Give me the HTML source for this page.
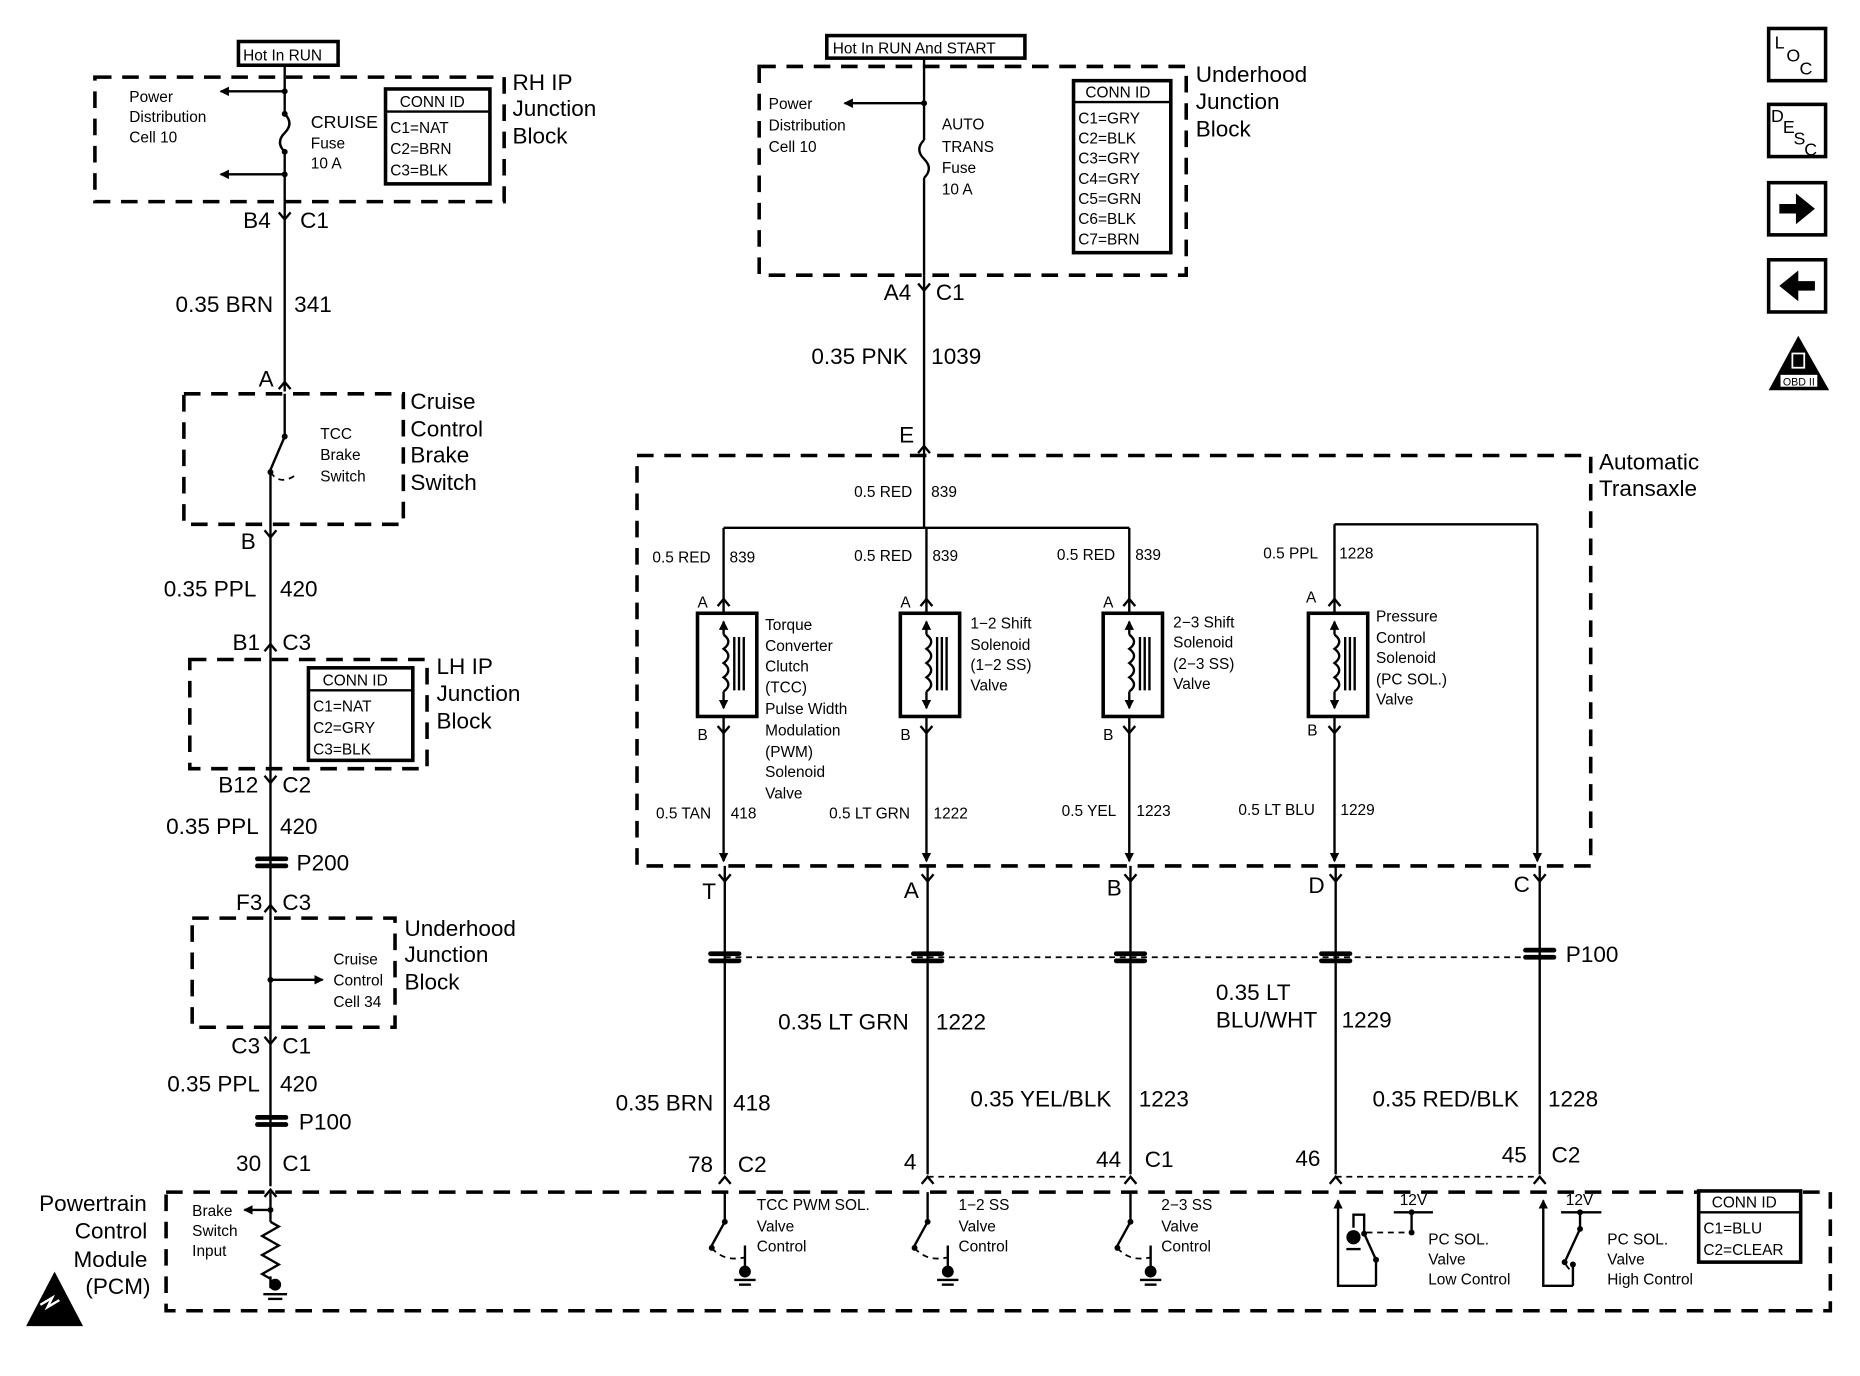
<!DOCTYPE html>
<html><head><meta charset="utf-8"><style>
html,body{margin:0;padding:0;background:#fff;}
svg{display:block;}
text{font-family:"Liberation Sans",Arial,sans-serif;fill:#000;}
.s{font-size:13px;}
.m{font-size:15px;}
.l{font-size:19px;}
.w{stroke:#000;stroke-width:2;fill:none;}
.d{stroke:#000;stroke-width:3;fill:none;stroke-dasharray:14 9;}
.dt{stroke:#000;stroke-width:1.5;fill:none;stroke-dasharray:5 4;}
.b{stroke:#000;stroke-width:3;fill:#fff;}
</style></head><body>
<svg width="1860" height="1376" viewBox="0 0 1568 1160" xmlns="http://www.w3.org/2000/svg">
<defs>
<marker id="ah" markerWidth="8" markerHeight="8" refX="7" refY="4" orient="auto" markerUnits="userSpaceOnUse"><path d="M0,0 L8,4 L0,8 z"/></marker>
<g id="fY"><path d="M-5,-6 L0,0 L5,-6" class="w"/></g>
<g id="mA"><path d="M-5,6 L0,0 L5,6" class="w"/></g>
<g id="inl"><line x1="-12" y1="-3" x2="12" y2="-3" stroke="#000" stroke-width="4" stroke-linecap="round"/><line x1="-12" y1="3" x2="12" y2="3" stroke="#000" stroke-width="4" stroke-linecap="round"/></g>
</defs>

<!-- ============ LEFT COLUMN ============ -->
<rect x="201" y="35" width="84" height="20" class="b" stroke-width="2.5"/>
<text x="205" y="51" class="s">Hot In RUN</text>
<path d="M80,65 H425 V170 H80 Z" class="d"/>
<text x="432" y="76" class="l">RH IP</text>
<text x="432" y="98" class="l">Junction</text>
<text x="432" y="121" class="l">Block</text>
<line x1="240" y1="55" x2="240" y2="96" class="w"/>
<path d="M240,96 q8,8 0,16 q-8,8 0,16" class="w"/>
<line x1="240" y1="128" x2="240" y2="170" class="w"/>
<line x1="240" y1="77" x2="186" y2="77" class="w" marker-end="url(#ah)"/>
<line x1="240" y1="147" x2="186" y2="147" class="w" marker-end="url(#ah)"/>
<circle cx="240" cy="77" r="2.5"/><circle cx="240" cy="147" r="2.5"/>
<circle cx="240" cy="96" r="2.5"/><circle cx="240" cy="128" r="2.5"/>
<text x="109" y="86" class="s">Power</text>
<text x="109" y="103" class="s">Distribution</text>
<text x="109" y="120" class="s">Cell 10</text>
<text x="262" y="108" class="m">CRUISE</text>
<text x="262" y="125" class="s">Fuse</text>
<text x="262" y="142" class="s">10 A</text>
<rect x="325" y="75" width="88" height="80" class="b" stroke-width="2.5"/>
<line x1="325" y1="94" x2="413" y2="94" class="w"/>
<text x="337" y="90" class="s">CONN ID</text>
<text x="329" y="112" class="s">C1=NAT</text>
<text x="329" y="130" class="s">C2=BRN</text>
<text x="329" y="148" class="s">C3=BLK</text>
<line x1="240" y1="170" x2="240" y2="330" class="w"/>
<use href="#fY" x="240" y="185"/>
<text x="205" y="192" class="l">B4</text><text x="253" y="192" class="l">C1</text>
<text x="148" y="263" class="l">0.35 BRN</text><text x="248" y="263" class="l">341</text>
<use href="#mA" x="240" y="322"/>
<text x="218" y="326" class="l">A</text>
<path d="M155,332 H340 V442 H155 Z" class="d"/>
<text x="346" y="345" class="l">Cruise</text>
<text x="346" y="368" class="l">Control</text>
<text x="346" y="390" class="l">Brake</text>
<text x="346" y="413" class="l">Switch</text>
<line x1="240" y1="332" x2="240" y2="368" class="w"/>
<line x1="240" y1="368" x2="228" y2="396" class="w"/>
<circle cx="240" cy="368" r="2.5"/><circle cx="228" cy="398" r="2.5"/>
<path d="M228,398 q8,12 22,2" class="dt"/>
<line x1="228" y1="398" x2="228" y2="470" class="w"/>
<text x="270" y="370" class="s">TCC</text>
<text x="270" y="388" class="s">Brake</text>
<text x="270" y="406" class="s">Switch</text>
<use href="#fY" x="228" y="453"/>
<text x="203" y="463" class="l">B</text>
<line x1="228" y1="470" x2="228" y2="1000" class="w"/>
<text x="138" y="503" class="l">0.35 PPL</text><text x="236" y="503" class="l">420</text>
<use href="#mA" x="228" y="543"/>
<text x="196" y="548" class="l">B1</text><text x="238" y="548" class="l">C3</text>
<path d="M160,556 H360 V648 H160 Z" class="d"/>
<text x="368" y="568" class="l">LH IP</text>
<text x="368" y="591" class="l">Junction</text>
<text x="368" y="614" class="l">Block</text>
<rect x="260" y="563" width="88" height="78" class="b" stroke-width="2.5"/>
<line x1="260" y1="582" x2="348" y2="582" class="w"/>
<text x="272" y="578" class="s">CONN ID</text>
<text x="264" y="600" class="s">C1=NAT</text>
<text x="264" y="618" class="s">C2=GRY</text>
<text x="264" y="636" class="s">C3=BLK</text>
<use href="#fY" x="228" y="660"/>
<text x="184" y="668" class="l">B12</text><text x="238" y="668" class="l">C2</text>
<text x="140" y="703" class="l">0.35 PPL</text><text x="236" y="703" class="l">420</text>
<use href="#inl" x="229" y="727"/>
<text x="250" y="734" class="l">P200</text>
<use href="#mA" x="228" y="763"/>
<text x="199" y="767" class="l">F3</text><text x="238" y="767" class="l">C3</text>
<path d="M162,774 H333 V866 H162 Z" class="d"/>
<text x="341" y="789" class="l">Underhood</text>
<text x="341" y="811" class="l">Junction</text>
<text x="341" y="834" class="l">Block</text>
<line x1="228" y1="826" x2="272" y2="826" class="w" marker-end="url(#ah)"/>
<circle cx="228" cy="826" r="2.5"/>
<text x="281" y="813" class="s">Cruise</text>
<text x="281" y="831" class="s">Control</text>
<text x="281" y="849" class="s">Cell 34</text>
<use href="#fY" x="228" y="880"/>
<text x="195" y="888" class="l">C3</text><text x="238" y="888" class="l">C1</text>
<text x="141" y="920" class="l">0.35 PPL</text><text x="236" y="920" class="l">420</text>
<use href="#inl" x="229" y="945"/>
<text x="252" y="952" class="l">P100</text>
<text x="199" y="987" class="l">30</text><text x="238" y="987" class="l">C1</text>
<use href="#mA" x="228" y="1003"/>

<!-- PCM -->
<path d="M140,1005 H1543 V1105 H140 Z" class="d"/>
<text x="33" y="1021" class="l">Powertrain</text>
<text x="63" y="1044" class="l">Control</text>
<text x="62" y="1068" class="l">Module</text>
<text x="72" y="1091" class="l">(PCM)</text>
<path d="M22,1118 L46,1072 L70,1118 Z"/>
<path d="M34,1100 l10,-6 l-4,8 l10,-6" stroke="#fff" stroke-width="2" fill="none"/>
<line x1="228" y1="1005" x2="228" y2="1030" class="w"/>
<path d="M228,1030 l7,4 l-14,8 l14,8 l-14,8 l14,8 l-14,8 l7,4" class="w"/>
<line x1="228" y1="1076" x2="228" y2="1086" class="w"/>
<circle cx="232" cy="1083" r="5"/>
<line x1="222" y1="1091" x2="242" y2="1091" class="w"/><line x1="226" y1="1095" x2="238" y2="1095" class="w"/>
<line x1="228" y1="1020" x2="206" y2="1020" class="w" marker-end="url(#ah)"/>
<circle cx="228" cy="1020" r="2.5"/>
<text x="162" y="1025" class="s">Brake</text>
<text x="162" y="1042" class="s">Switch</text>
<text x="162" y="1059" class="s">Input</text>

<!-- ============ MIDDLE TOP ============ -->
<rect x="697" y="30" width="167" height="19" class="b" stroke-width="2.5"/>
<text x="702" y="45" class="s">Hot In RUN And START</text>
<path d="M640,56 H1000 V232 H640 Z" class="d"/>
<text x="1008" y="69" class="l">Underhood</text>
<text x="1008" y="92" class="l">Junction</text>
<text x="1008" y="115" class="l">Block</text>
<line x1="779" y1="49" x2="779" y2="118" class="w"/>
<path d="M779,118 q-8,8 0,16 q8,8 0,16" class="w"/>
<line x1="779" y1="150" x2="779" y2="232" class="w"/>
<line x1="779" y1="87" x2="712" y2="87" class="w" marker-end="url(#ah)"/>
<circle cx="779" cy="87" r="2.5"/>
<text x="648" y="92" class="s">Power</text>
<text x="648" y="110" class="s">Distribution</text>
<text x="648" y="128" class="s">Cell 10</text>
<text x="794" y="109" class="s">AUTO</text>
<text x="794" y="128" class="s">TRANS</text>
<text x="794" y="146" class="s">Fuse</text>
<text x="794" y="164" class="s">10 A</text>
<rect x="905" y="68" width="82" height="145" class="b" stroke-width="2.5"/>
<line x1="905" y1="86" x2="987" y2="86" class="w"/>
<text x="915" y="82" class="s">CONN ID</text>
<text x="909" y="104" class="s">C1=GRY</text>
<text x="909" y="121" class="s">C2=BLK</text>
<text x="909" y="138" class="s">C3=GRY</text>
<text x="909" y="155" class="s">C4=GRY</text>
<text x="909" y="172" class="s">C5=GRN</text>
<text x="909" y="189" class="s">C6=BLK</text>
<text x="909" y="206" class="s">C7=BRN</text>
<line x1="779" y1="232" x2="779" y2="445" class="w"/>
<use href="#fY" x="779" y="245"/>
<text x="745" y="253" class="l">A4</text><text x="789" y="253" class="l">C1</text>
<text x="684" y="307" class="l">0.35 PNK</text><text x="785" y="307" class="l">1039</text>
<use href="#mA" x="779" y="376"/>
<text x="758" y="373" class="l">E</text>

<!-- Transaxle -->
<path d="M537,384 H1341 V730 H537 Z" class="d"/>
<text x="1348" y="396" class="l">Automatic</text>
<text x="1348" y="418" class="l">Transaxle</text>
<text x="720" y="419" class="s">0.5 RED</text><text x="785" y="419" class="s">839</text>
<line x1="610" y1="445" x2="952" y2="445" class="w"/>
<line x1="1125" y1="442" x2="1296" y2="442" class="w"/>
<line x1="1296" y1="442" x2="1296" y2="726" class="w" marker-end="url(#ah)"/>

<g>
<line x1="610" y1="445" x2="610" y2="517" class="w"/>
<line x1="781" y1="445" x2="781" y2="517" class="w"/>
<line x1="952" y1="445" x2="952" y2="517" class="w"/>
<line x1="1125" y1="442" x2="1125" y2="517" class="w"/>
</g>
<text x="550" y="474" class="s">0.5 RED</text><text x="615" y="474" class="s">839</text>
<text x="720" y="473" class="s">0.5 RED</text><text x="786" y="473" class="s">839</text>
<text x="891" y="472" class="s">0.5 RED</text><text x="957" y="472" class="s">839</text>
<text x="1065" y="471" class="s">0.5 PPL</text><text x="1129" y="471" class="s">1228</text>

<g id="sol">
<use href="#mA" x="610" y="505"/>
<rect x="588" y="517" width="50" height="87" class="b"/>
<line x1="610" y1="535" x2="610" y2="524" class="w" marker-end="url(#ah)"/>
<path d="M610,535 q8,6 0,12 q8,6 0,12 q8,6 0,12 q8,6 0,12" class="w"/>
<line x1="610" y1="583" x2="610" y2="597" class="w" marker-end="url(#ah)"/>
<line x1="619" y1="537" x2="619" y2="582" class="w" stroke-width="1.2"/>
<line x1="623" y1="537" x2="623" y2="582" class="w"/>
<line x1="627" y1="537" x2="627" y2="582" class="w"/>
<use href="#fY" x="610" y="618"/>
<line x1="610" y1="604" x2="610" y2="617" class="w"/>
</g>
<use href="#sol" x="171"/>
<use href="#sol" x="342"/>
<use href="#sol" x="515"/>
<text x="588" y="512" class="s">A</text><text x="588" y="624" class="s">B</text>
<text x="759" y="512" class="s">A</text><text x="759" y="624" class="s">B</text>
<text x="930" y="512" class="s">A</text><text x="930" y="624" class="s">B</text>
<text x="1101" y="508" class="s">A</text><text x="1102" y="620" class="s">B</text>

<text x="645" y="531" class="s">Torque</text>
<text x="645" y="549" class="s">Converter</text>
<text x="645" y="566" class="s">Clutch</text>
<text x="645" y="584" class="s">(TCC)</text>
<text x="645" y="602" class="s">Pulse Width</text>
<text x="645" y="620" class="s">Modulation</text>
<text x="645" y="638" class="s">(PWM)</text>
<text x="645" y="655" class="s">Solenoid</text>
<text x="645" y="673" class="s">Valve</text>
<text x="818" y="530" class="s">1−2 Shift</text>
<text x="818" y="548" class="s">Solenoid</text>
<text x="818" y="565" class="s">(1−2 SS)</text>
<text x="818" y="582" class="s">Valve</text>
<text x="989" y="529" class="s">2−3 Shift</text>
<text x="989" y="546" class="s">Solenoid</text>
<text x="989" y="564" class="s">(2−3 SS)</text>
<text x="989" y="581" class="s">Valve</text>
<text x="1160" y="524" class="s">Pressure</text>
<text x="1160" y="542" class="s">Control</text>
<text x="1160" y="559" class="s">Solenoid</text>
<text x="1160" y="577" class="s">(PC SOL.)</text>
<text x="1160" y="594" class="s">Valve</text>

<line x1="610" y1="617" x2="610" y2="726" class="w" marker-end="url(#ah)"/>
<line x1="781" y1="617" x2="781" y2="726" class="w" marker-end="url(#ah)"/>
<line x1="952" y1="617" x2="952" y2="726" class="w" marker-end="url(#ah)"/>
<line x1="1125" y1="617" x2="1125" y2="726" class="w" marker-end="url(#ah)"/>
<text x="553" y="690" class="s">0.5 TAN</text><text x="616" y="690" class="s">418</text>
<text x="699" y="690" class="s">0.5 LT GRN</text><text x="787" y="690" class="s">1222</text>
<text x="895" y="688" class="s">0.5 YEL</text><text x="958" y="688" class="s">1223</text>
<text x="1044" y="687" class="s">0.5 LT BLU</text><text x="1130" y="687" class="s">1229</text>

<line x1="611" y1="730" x2="611" y2="990" class="w"/>
<line x1="782" y1="730" x2="782" y2="990" class="w"/>
<line x1="953" y1="730" x2="953" y2="990" class="w"/>
<line x1="1126" y1="730" x2="1126" y2="990" class="w"/>
<line x1="1298" y1="730" x2="1298" y2="990" class="w"/>
<use href="#fY" x="611" y="743"/><use href="#fY" x="782" y="743"/><use href="#fY" x="953" y="743"/><use href="#fY" x="1126" y="743"/><use href="#fY" x="1298" y="743"/>
<text x="592" y="758" class="l">T</text><text x="762" y="757" class="l">A</text><text x="933" y="755" class="l">B</text><text x="1103" y="753" class="l">D</text><text x="1276" y="752" class="l">C</text>
<line x1="611" y1="807" x2="1298" y2="807" class="dt"/>
<use href="#inl" x="611" y="807"/><use href="#inl" x="782" y="807"/><use href="#inl" x="953" y="807"/><use href="#inl" x="1126" y="807"/><use href="#inl" x="1298" y="804"/>
<text x="1320" y="811" class="l">P100</text>
<text x="656" y="868" class="l">0.35 LT GRN</text><text x="789" y="868" class="l">1222</text>
<text x="1025" y="843" class="l">0.35 LT</text>
<text x="1025" y="866" class="l">BLU/WHT</text><text x="1131" y="866" class="l">1229</text>
<text x="519" y="936" class="l">0.35 BRN</text><text x="618" y="936" class="l">418</text>
<text x="818" y="933" class="l">0.35 YEL/BLK</text><text x="960" y="933" class="l">1223</text>
<text x="1157" y="933" class="l">0.35 RED/BLK</text><text x="1305" y="933" class="l">1228</text>
<text x="580" y="988" class="l">78</text><text x="622" y="988" class="l">C2</text>
<text x="762" y="986" class="l">4</text>
<text x="924" y="984" class="l">44</text><text x="965" y="984" class="l">C1</text>
<text x="1092" y="983" class="l">46</text>
<text x="1266" y="980" class="l">45</text><text x="1308" y="980" class="l">C2</text>
<use href="#mA" x="611" y="992"/><use href="#mA" x="782" y="992"/><use href="#mA" x="953" y="992"/><use href="#mA" x="1126" y="992"/><use href="#mA" x="1298" y="992"/>
<line x1="782" y1="992" x2="953" y2="992" class="dt"/>
<line x1="1126" y1="992" x2="1298" y2="992" class="dt"/>

<g id="drv">
<line x1="611" y1="1005" x2="611" y2="1030" class="w"/>
<line x1="611" y1="1030" x2="600" y2="1050" class="w"/>
<circle cx="611" cy="1030" r="2.5"/><circle cx="600" cy="1052" r="2.5"/>
<path d="M600,1052 q10,12 28,8" class="dt"/>
<line x1="628" y1="1050" x2="628" y2="1070" class="w"/>
<circle cx="628" cy="1072" r="5"/>
<line x1="619" y1="1079" x2="637" y2="1079" class="w"/><line x1="623" y1="1083" x2="633" y2="1083" class="w"/>
</g>
<use href="#drv" x="171"/>
<use href="#drv" x="342"/>
<text x="638" y="1020" class="s">TCC PWM SOL.</text><text x="638" y="1038" class="s">Valve</text><text x="638" y="1055" class="s">Control</text>
<text x="808" y="1020" class="s">1−2 SS</text><text x="808" y="1038" class="s">Valve</text><text x="808" y="1055" class="s">Control</text>
<text x="979" y="1020" class="s">2−3 SS</text><text x="979" y="1038" class="s">Valve</text><text x="979" y="1055" class="s">Control</text>

<!-- PC low -->
<path d="M1160,1084 H1128 V1012" class="w" marker-end="url(#ah)"/>
<path d="M1160,1084 V1062 L1150,1040 V1024 H1141 V1035" class="w"/>
<circle cx="1150" cy="1040" r="2.5"/><circle cx="1160" cy="1062" r="2.5"/>
<circle cx="1141" cy="1043" r="6"/>
<line x1="1135" y1="1053" x2="1147" y2="1053" class="w" stroke-width="1.5"/>
<line x1="1175" y1="1022" x2="1208" y2="1022" class="w"/>
<line x1="1190" y1="1022" x2="1190" y2="1038" class="w"/>
<circle cx="1190" cy="1022" r="2.5"/><circle cx="1190" cy="1039" r="2.5"/>
<path d="M1152,1039 H1188" class="dt"/>
<text x="1180" y="1016" class="s">12V</text>
<text x="1204" y="1049" class="s">PC SOL.</text><text x="1204" y="1066" class="s">Valve</text><text x="1204" y="1083" class="s">Low Control</text>
<!-- PC high -->
<path d="M1326,1084 H1301 V1012" class="w" marker-end="url(#ah)"/>
<path d="M1326,1084 V1068" class="w"/>
<line x1="1316" y1="1022" x2="1350" y2="1022" class="w"/>
<line x1="1332" y1="1022" x2="1332" y2="1036" class="w"/>
<line x1="1332" y1="1036" x2="1320" y2="1062" class="w"/>
<circle cx="1332" cy="1022" r="2.5"/><circle cx="1332" cy="1036" r="2.5"/><circle cx="1319" cy="1064" r="2.5"/><circle cx="1326" cy="1066" r="2.5"/>
<path d="M1320,1066 q4,6 6,6" class="dt"/>
<text x="1320" y="1016" class="s">12V</text>
<text x="1355" y="1049" class="s">PC SOL.</text><text x="1355" y="1066" class="s">Valve</text><text x="1355" y="1083" class="s">High Control</text>
<rect x="1432" y="1004" width="86" height="60" class="b" stroke-width="2.5"/>
<line x1="1432" y1="1022" x2="1518" y2="1022" class="w"/>
<text x="1443" y="1018" class="s">CONN ID</text>
<text x="1436" y="1040" class="s">C1=BLU</text>
<text x="1436" y="1058" class="s">C2=CLEAR</text>

<!-- right icons -->
<rect x="1491" y="24" width="48" height="44" class="b" stroke-width="3"/>
<text x="1496" y="41" class="m">L</text><text x="1506" y="52" class="m">O</text><text x="1517" y="63" class="m">C</text>
<rect x="1491" y="88" width="48" height="44" class="b" stroke-width="3"/>
<text x="1493" y="103" class="m">D</text><text x="1503" y="112" class="m">E</text><text x="1512" y="122" class="m">S</text><text x="1521" y="131" class="m">C</text>
<rect x="1491" y="154" width="48" height="44" class="b" stroke-width="3"/>
<path d="M1500,172 H1514 V163 L1530,176 L1514,189 V180 H1500 Z"/>
<rect x="1491" y="219" width="48" height="44" class="b" stroke-width="3"/>
<path d="M1530,237 H1516 V228 L1500,241 L1516,254 V245 H1530 Z"/>
<path d="M1516,283 L1491,329 L1542,329 Z"/>
<rect x="1501" y="316" width="31" height="10" fill="#fff"/>
<text x="1503" y="325" font-size="9">OBD II</text>
<rect x="1511" y="298" width="10" height="12" fill="none" stroke="#fff" stroke-width="1.5"/>
</svg>
</body></html>
